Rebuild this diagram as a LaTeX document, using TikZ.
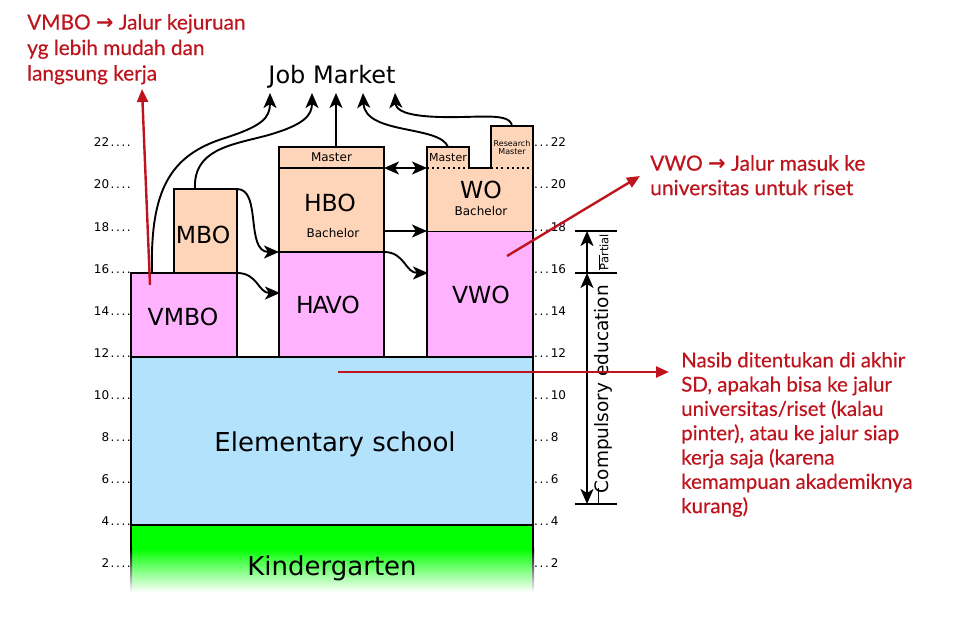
\documentclass[tikz,border=0pt]{standalone}
\usepackage{fontspec}
\setmainfont{DejaVu Sans}
\newfontfamily\annotfont[FakeBold=0.35]{Lato}
\newfontfamily\arrowfont{DejaVu Sans}
\usetikzlibrary{arrows.meta}
\definecolor{peach}{RGB}{255,213,185}
\definecolor{pinkv}{RGB}{255,179,255}
\definecolor{lblue}{RGB}{179,227,252}
\definecolor{kgreen}{RGB}{0,255,0}
\definecolor{annred}{RGB}{190,20,30}
\newcommand{\agedot}{\kern1.6pt.}
\newcommand{\fs}[1]{\fontsize{#1}{#1}\selectfont}
\newcommand{\annarrow}{{\arrowfont\bfseries →}}
\begin{document}
\begin{tikzpicture}[x=1pt,y=-1pt,
  box/.style={draw=black, line width=2pt, anchor=north west, inner sep=0pt, outer sep=0pt},
  fillbox/.style={anchor=north west, inner sep=0pt, outer sep=0pt},
  outl/.style={draw=black, line width=2pt, line join=miter},
  conn/.style={line width=1.9pt, -{Stealth[length=15pt,width=13pt,inset=4pt]}},
  dconn/.style={line width=1.9pt, {Stealth[length=15pt,width=13pt,inset=4pt]}-{Stealth[length=15pt,width=13pt,inset=4pt]}},
  redarr/.style={draw=annred, line width=2.4pt, -{Triangle[length=13pt,width=11pt]}},
  anntext/.style={text=annred, align=left, inner sep=0pt, anchor=north west},
  axl/.style={font=\fs{12}, inner sep=0pt},
  lbl/.style={inner sep=0pt, anchor=base},
  dots/.style={draw=black, line width=2.2pt, dash pattern=on 2pt off 3.2pt}
]
\useasboundingbox (0,0) rectangle (960,631);
\fill[white] (0,0) rectangle (960,631);

% kindergarten
\node[fillbox, fill=kgreen, minimum width=402pt, minimum height=24pt] (kg) at (131,525) {};
\shade[top color=kgreen, bottom color=white] (131,548.5) rectangle (533,592);
\draw[line width=2pt] (131,525) -- (131,549);
\draw[line width=2pt] (533,525) -- (533,549);
\shade[top color=black, bottom color=white] (130,548) rectangle (132,592);
\shade[top color=black, bottom color=white] (532,548) rectangle (534,592);

% boxes
\node[box, fill=lblue, minimum width=402pt, minimum height=168pt] (elem) at (131,357) {};
\node[box, fill=pinkv, minimum width=106pt, minimum height=84pt] (vmbo) at (131,273) {};
\node[box, fill=peach, minimum width=63pt, minimum height=84pt] (mbo) at (174,189) {};
\node[box, fill=pinkv, minimum width=105pt, minimum height=105pt] (havo) at (279,252) {};
\node[box, fill=peach, minimum width=105pt, minimum height=84pt] (hbo) at (279,168) {};
\node[box, fill=peach, minimum width=105pt, minimum height=21pt] (hbom) at (279,147) {};
\node[box, fill=pinkv, minimum width=106pt, minimum height=126pt] (vwo) at (427,231) {};
\node[fillbox, fill=peach, minimum width=106pt, minimum height=63pt] (wo) at (427,168) {};
\node[fillbox, fill=peach, minimum width=42pt, minimum height=21pt] (wom) at (427,147) {};
\node[fillbox, fill=peach, minimum width=42pt, minimum height=42pt] (worm) at (491,126) {};
\draw[outl] (vwo.north west) -- (wom.north west) -- (wom.north east) -- (wom.south east)
  -- (worm.south west) -- (worm.north west) -- (worm.north east) -- (vwo.north east);
\draw[dots] (wo.north west) -- (wom.south east);
\draw[dots] (worm.south west) -- (wo.north east);

% labels in boxes
\node[lbl, font=\fs{26}] (elemt) at (335,451) {Elementary school};
\node[lbl, font=\fs{26}] (kgt) at (332,575) {Kindergarten};
\node[lbl, font=\fs{23.5}] (vmbot) at (183,325) {VMBO};
\node[lbl, font=\fs{23.5}] (mbot) at (203,243) {MBO};
\node[lbl, font=\fs{23.5}] (havot) at (328,313) {H\kern-1pt A\kern-3pt VO};
\node[lbl, font=\fs{23.5}] (hbot) at (330,211) {HBO};
\node[lbl, font=\fs{12}] (hbobach) at (333,237) {Bachelor};
\node[lbl, font=\fs{12}] (hbomt) at (331.5,162) {Master};
\node[lbl, font=\fs{23.5}] (vwot) at (481,303) {VWO};
\node[lbl, font=\fs{23.5}] (wot) at (481,198) {WO};
\node[lbl, font=\fs{12}] (wobach) at (481,215) {Bachelor};
\node[lbl, font=\fs{11}] (womt) at (448,162) {Master};
\node[lbl, font=\fs{8}] (wormt1) at (512,147) {Research};
\node[lbl, font=\fs{8}] (wormt2) at (512,155) {Master};

% job market
\node[lbl, font=\fs{24}] (jm) at (332,84) {Job Market};
\coordinate (jm1) at (270,93);
\coordinate (jm2) at (312,93);
\coordinate (jm3) at (336,93);
\coordinate (jm4) at (363,93);
\coordinate (jm5) at (395,93);
\coordinate (vmbotop) at (152,273);
\coordinate (mbotop) at (195,189);
\coordinate (hbomtop) at (336,147);
\coordinate (womtop) at (448,147);
\coordinate (wormtop) at (512,126);
\coordinate (havoin) at (280,293);
\coordinate (vwoin) at (428,273);

\draw[conn] (vmbotop) .. controls (150,190) and (170,155) .. (225,138) .. controls (262,126) and (270,118) .. (jm1);
\draw[conn] (mbotop) .. controls (193,150) and (230,145) .. (265,136) .. controls (305,125) and (312,115) .. (jm2);
\draw[conn] (hbomtop) -- (jm3);
\draw[conn] (womtop) .. controls (440,125) and (365,135) .. (jm4);
\draw[conn] (wormtop) .. controls (510,112) and (480,118) .. (440,117) .. controls (405,116) and (396,110) .. (jm5);

\draw[conn] (mbo.north east) .. controls (262,189) and (245,252) .. (hbo.south west);
\draw[conn] (vmbo.north east) .. controls (258,273) and (258,293) .. (havoin);
\draw[conn] (hbo.east |- vwo.north west) -- (vwo.north west);
\draw[conn] (havo.north east) .. controls (405,252) and (405,273) .. (vwoin);
\draw[dconn] (hbo.north east) -- (wo.north west);

% age labels
\foreach \a in {2,4,...,22}{
  \node[axl, anchor=base east] (l\a) at (131,{147+(22-\a)*21}) {\a\agedot\agedot\agedot\agedot};
  \node[axl, anchor=base west] (r\a) at (534,{147+(22-\a)*21}) {.\agedot\agedot\kern2pt\a};
}

% compulsory education bracket
\coordinate (b18l) at (575,231); \coordinate (b18r) at (617,231);
\coordinate (b16l) at (575,273); \coordinate (b16r) at (617,273);
\coordinate (b5l) at (575,504); \coordinate (b5r) at (617,504);
\draw[line width=1.8pt] (b18l) -- (b18r);
\draw[line width=1.8pt] (b16l) -- (b16r);
\draw[line width=1.8pt] (b5l) -- (b5r);
\coordinate (p18) at (587,231);
\coordinate (p16) at (587,273);
\coordinate (p5) at (587,504);
\draw[conn] (p16) -- (p18);
\draw[dconn] (p5) -- (p16);
\draw[line width=1pt] (599,255) -- (599,270);
\draw[line width=1pt] (598,488) -- (598,503);
\node[rotate=90, font=\fs{11.5}, inner sep=0pt] (partial) at (604,252) {Partial};
\node[rotate=90, font=\fs{18.5}, inner sep=0pt] (compul) at (603,389) {Compulsory education};

% annotations
\node[anntext, font=\annotfont\fontsize{20.8}{25.5}\selectfont] (ann1) at (27,14)
  {VMBO \annarrow{} Jalur kejuruan\\yg lebih mudah dan\\langsung kerja};
\node[anntext, font=\annotfont\fontsize{21}{24.5}\selectfont] (ann2) at (650,155)
  {VWO \annarrow{} Jalur masuk ke\\universitas untuk riset};
\node[anntext, font=\annotfont\fontsize{20.5}{24.3}\selectfont] (ann3) at (681,352)
  {Nasib ditentukan di akhir\\SD, apakah bisa ke jalur\\universitas/riset (kalau\\pinter), atau ke jalur siap\\kerja saja (karena\\kemampuan akademiknya\\kurang)};
\coordinate (a1s) at (150,285); \coordinate (a1t) at (142,89);
\coordinate (a2s) at (507,256); \coordinate (a2t) at (640,176);
\coordinate (a3s) at (338,372); \coordinate (a3t) at (669,372);
\draw[redarr] (a1s) -- (a1t);
\draw[redarr] (a2s) -- (a2t);
\draw[redarr] (a3s) -- (a3t);
\end{tikzpicture}
\end{document}
